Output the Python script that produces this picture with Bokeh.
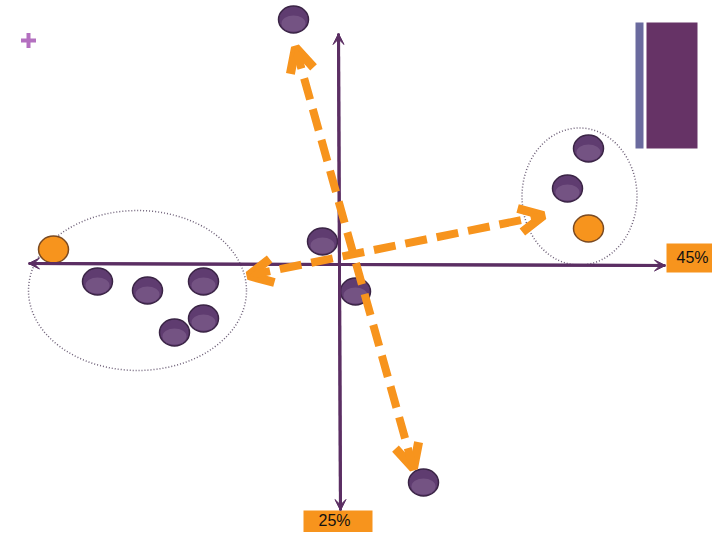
from bokeh.plotting import figure
from bokeh.models import Range1d, ColumnDataSource, Arrow, OpenHead, VeeHead
from bokeh.core.properties import value
from bokeh.embed import file_html
from bokeh.resources import INLINE

# ---- data (coordinates relative to the axes origin) ----
purple_x = [-242, -192, -136, -136, -165, -17, 16, -46, 84, 249, 228]
purple_y = [-17, -26, -17, -54, -68, 23, -27, 245, -218, 116, 76]
orange_x = [-286, 249]
orange_y = [15, 36]

# cluster outlines
cluster_x = [-202, 240]
cluster_y = [-26, 68]
cluster_w = [218, 115]
cluster_h = [160, 137]

# axis arrows (horizontal, vertical)
axis_x0 = [326, 1]
axis_y0 = [-1, -246]
axis_x1 = [-311, -1]
axis_y1 = [1, 231]

# loading vectors (double headed)
vec_x0 = [-44, -91]
vec_y0 = [217, -11]
vec_x1 = [74, 204]
vec_y1 = [-204, 49]

labels = ["45%", "25%"]
label_x = [353, -5]
label_y = [7, -256]
box_left = [327, -36]
box_right = [381, 33]
box_top = [21, -246]
box_bottom = [-8, -276]

PURPLE = "#5b2e63"
ORANGE = "#f7941d"

p = figure(width=712, height=532, output_backend="svg", toolbar_location=None,
           x_range=Range1d(-339, 373), y_range=Range1d(-268, 264),
           min_border=0, outline_line_color=None, background_fill_color="white",
           border_fill_color="white")
p.axis.visible = False
p.grid.visible = False

# decorative header: plus sign and bars
p.scatter(x=[-311], y=[224], marker="cross", size=15, line_width=4, line_color="#b470c0")
p.quad(left=[296], right=[304], top=[242], bottom=[116], fill_color="#6a6a9e", line_color=None)
p.quad(left=[307], right=[358], top=[242], bottom=[116], fill_color="#663366", line_color=None)

# cluster ellipses
p.ellipse(x=cluster_x, y=cluster_y, width=cluster_w, height=cluster_h,
          fill_color=None, line_color="#6e6078", line_dash="1 2", line_width=1.5)

# axes
asrc = ColumnDataSource(dict(x0=axis_x0, y0=axis_y0, x1=axis_x1, y1=axis_y1))
p.add_layout(Arrow(source=asrc, x_start="x0", y_start="y0", x_end="x1", y_end="y1",
                   line_color=PURPLE, line_width=3,
                   end=VeeHead(size=11, fill_color=PURPLE, line_color=PURPLE)))
p.add_layout(Arrow(source=asrc, x_start="x1", y_start="y1", x_end="x0", y_end="y0",
                   line_color=PURPLE, line_width=3,
                   end=VeeHead(size=11, fill_color=PURPLE, line_color=PURPLE)))

# orange dashed vectors
vsrc = ColumnDataSource(dict(x0=vec_x0, y0=vec_y0, x1=vec_x1, y1=vec_y1))
p.add_layout(Arrow(source=vsrc, x_start="x0", y_start="y0", x_end="x1", y_end="y1",
                   line_color=ORANGE, line_width=8, line_dash="22 10",
                   start=OpenHead(size=24, line_color=ORANGE, line_width=9),
                   end=OpenHead(size=24, line_color=ORANGE, line_width=9)))

# points
p.ellipse(x=purple_x, y=purple_y, width=30, height=27,
          fill_color="#5f3c70", line_color="#3a2445", line_width=1.5)
p.ellipse(x=purple_x, y=[v - 4 for v in purple_y], width=24, height=16,
          fill_color="#8e6f9c", fill_alpha=0.45, line_color=None)
p.ellipse(x=orange_x, y=orange_y, width=30, height=27,
          fill_color=ORANGE, line_color="#7a4a22", line_width=1.5)

# percentage labels
p.quad(left=box_left, right=box_right, top=box_top, bottom=box_bottom,
       fill_color=ORANGE, line_color=None)
p.text(x=label_x, y=label_y, text=labels, text_align="center", text_baseline="middle",
       text_font=value("Liberation Sans"), text_font_size="16px", text_color="#111111")

open("out.html", "w").write(file_html(p, INLINE))
